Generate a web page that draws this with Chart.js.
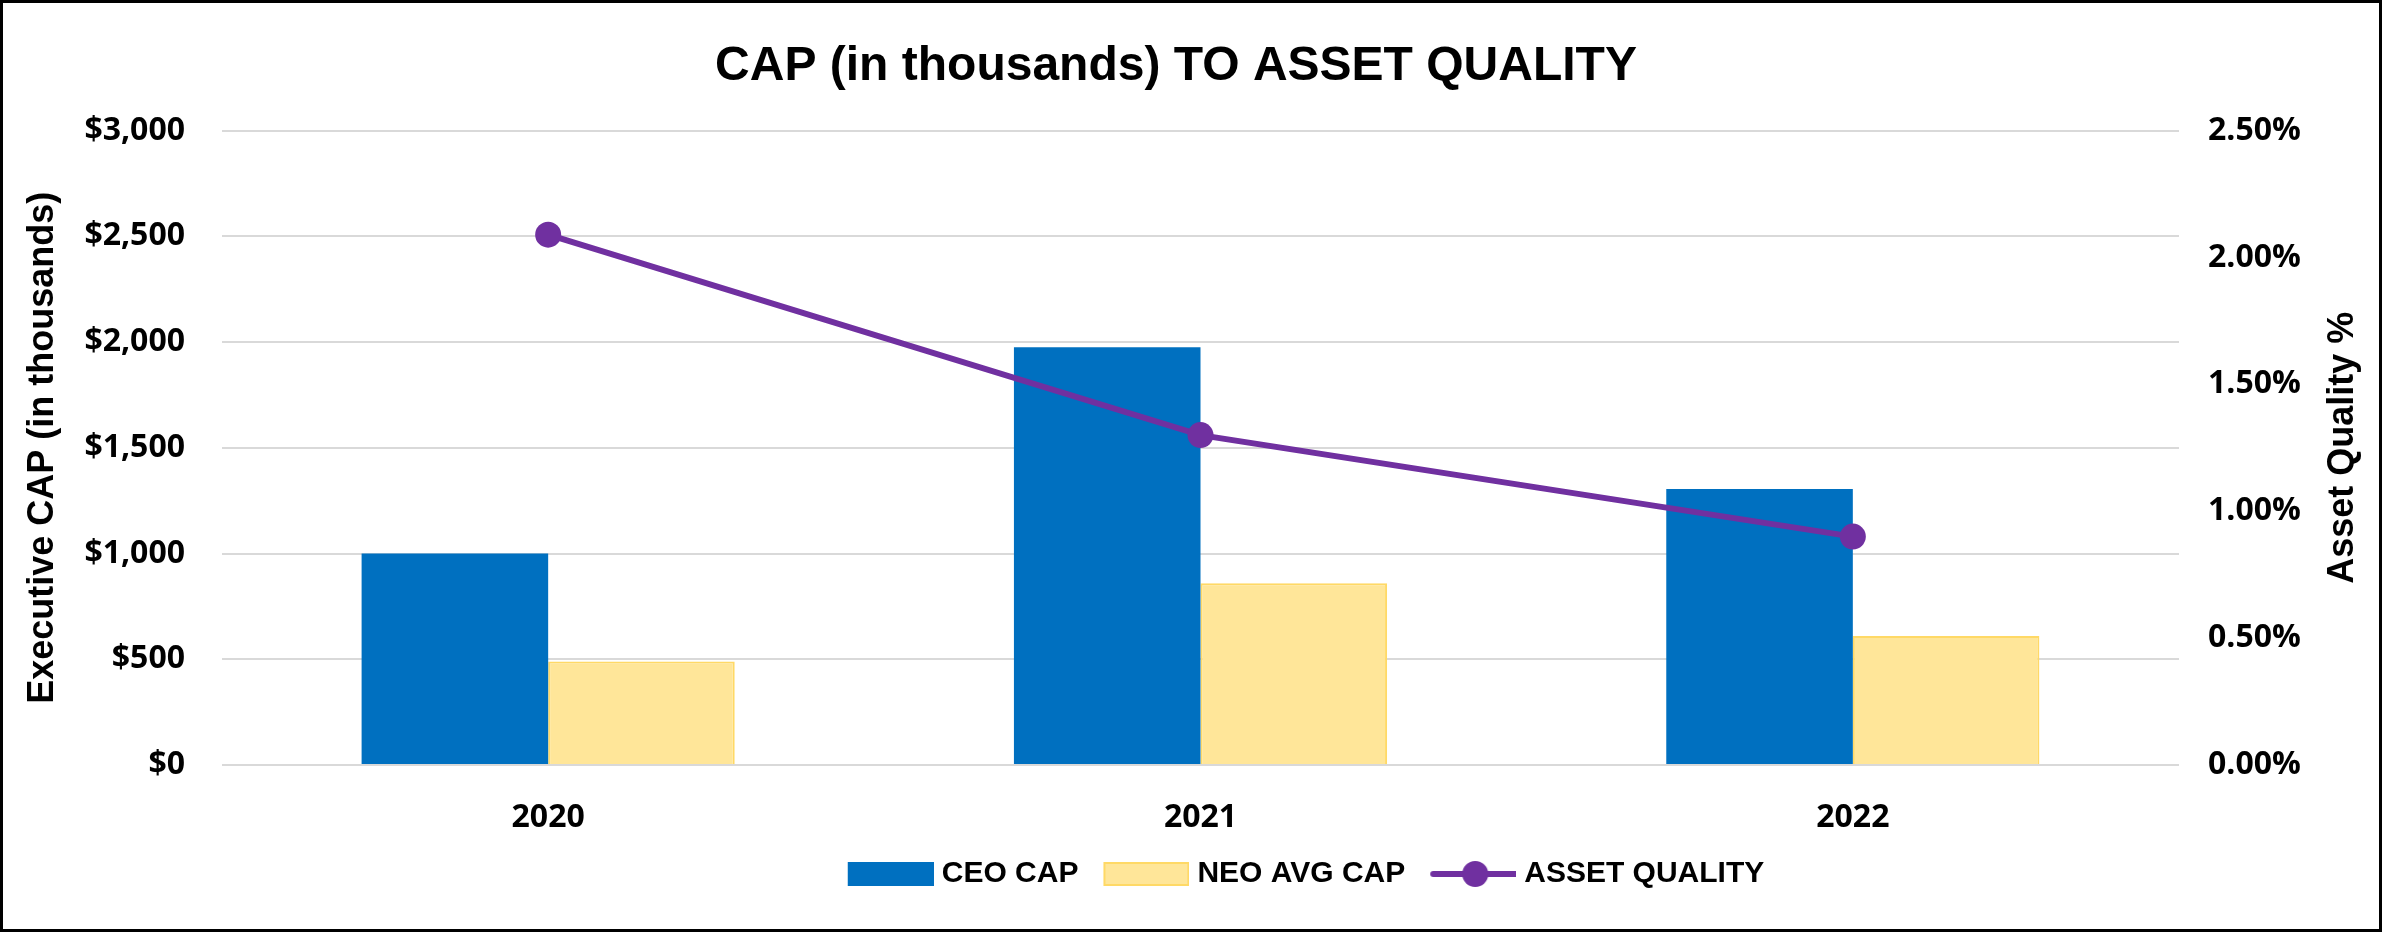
<!DOCTYPE html>
<html>
<head>
<meta charset="utf-8">
<title>CAP to Asset Quality</title>
<script src="https://cdn.jsdelivr.net/npm/chart.js@4.4.0/dist/chart.umd.min.js"></script>
<style>
html, body { margin: 0; padding: 0; background: #fff; }
#wrap { width: 2382px; height: 932px; box-sizing: border-box; border: 3px solid #000; }
canvas { display: block; }
</style>
</head>
<body>
<div id="wrap"><canvas id="myChart" width="2376" height="926"></canvas></div>
<script>
var years = ['2020', '2021', '2022'];
var ceoCap = [1000, 1975, 1305];
var neoAvgCap = [490, 860, 610];
var assetQuality = [2.09, 1.30, 0.90];

var blue = '#0070C0';
var yellow = '#FFE699';
var yellowEdge = '#FFD966';
var purple = '#7030A0';
var sans = '"Liberation Sans", Arial, sans-serif';
var tickFont = { family: '"Open Sans", "DejaVu Sans", sans-serif', size: 32, weight: 'bold', lineHeight: 1 };

// little pictures for the legend (7px empty on the left so the gap to the text is tight)
function icon(draw) {
    var c = document.createElement('canvas');
    c.width = 93;
    c.height = 28;
    var g = c.getContext('2d');
    g.translate(7, 0);
    draw(g);
    return c;
}
var ceoIcon = icon(function (g) {
    g.fillStyle = blue;
    g.fillRect(0, 2, 86, 24);
});
var neoIcon = icon(function (g) {
    g.fillStyle = yellow;
    g.fillRect(1, 3, 84, 22);
    g.strokeStyle = yellowEdge;
    g.lineWidth = 2;
    g.strokeRect(1, 3, 84, 22);
});
var aqIcon = icon(function (g) {
    g.strokeStyle = purple;
    g.lineWidth = 6;
    g.lineCap = 'round';
    g.beginPath();
    g.moveTo(3, 14);
    g.lineTo(86, 14);
    g.stroke();
    g.fillStyle = purple;
    g.beginPath();
    g.arc(45, 14, 13, 0, Math.PI * 2);
    g.fill();
});
var icons = [ceoIcon, neoIcon, aqIcon];

// right axis title reads bottom to top, like the left one
var rightTitle = {
    id: 'rightTitle',
    afterDraw: function (chart) {
        var ctx = chart.ctx;
        var a = chart.chartArea;
        ctx.save();
        ctx.translate(2340, (a.top + a.bottom) / 2);
        ctx.rotate(-Math.PI / 2);
        ctx.font = 'bold 36px ' + sans;
        ctx.fillStyle = '#000';
        ctx.textAlign = 'center';
        ctx.textBaseline = 'middle';
        ctx.fillText('Asset Quality %', 0, 0);
        ctx.restore();
    }
};

// the original legend sits right of centre, the title a bit left
var nudge = {
    id: 'nudge',
    afterLayout: function (chart) {
        chart.legend.left += 115;
        chart.legend.right += 115;
        chart.titleBlock.left -= 15;
        chart.titleBlock.right -= 15;
    }
};

new Chart(document.getElementById('myChart'), {
    type: 'bar',
    data: {
        labels: years,
        datasets: [
            {
                label: 'CEO CAP',
                data: ceoCap,
                backgroundColor: blue,
                yAxisID: 'y',
                order: 2
            },
            {
                label: 'NEO AVG CAP',
                data: neoAvgCap,
                backgroundColor: yellow,
                borderColor: yellowEdge,
                borderWidth: 2,
                yAxisID: 'y',
                order: 2
            },
            {
                type: 'line',
                label: 'ASSET QUALITY',
                data: assetQuality,
                borderColor: purple,
                backgroundColor: purple,
                borderWidth: 6,
                pointRadius: 13,
                pointHoverRadius: 13,
                pointBackgroundColor: purple,
                pointBorderWidth: 0,
                yAxisID: 'y1',
                order: 1
            }
        ]
    },
    options: {
        responsive: false,
        animation: false,
        datasets: {
            bar: { barPercentage: 1, categoryPercentage: 0.572 }
        },
        layout: { padding: { bottom: 30 } },
        plugins: {
            title: {
                display: true,
                text: 'CAP (in thousands) TO ASSET QUALITY',
                color: '#000',
                font: { family: sans, size: 48, weight: 'bold' },
                padding: { top: 35, bottom: 35 }
            },
            legend: {
                position: 'bottom',
                labels: {
                    usePointStyle: true,
                    pointStyleWidth: 79,
                    boxHeight: 30,
                    padding: 25,
                    color: '#000',
                    font: { family: sans, size: 30, weight: 'bold' },
                    generateLabels: function (chart) {
                        return chart.data.datasets.map(function (ds, i) {
                            return {
                                text: ds.label,
                                pointStyle: icons[i],
                                datasetIndex: i,
                                fontColor: '#000',
                                lineWidth: 0,
                                hidden: false
                            };
                        });
                    }
                }
            },
            tooltip: { enabled: false }
        },
        scales: {
            x: {
                grid: { display: false },
                border: { display: false },
                ticks: { color: '#000', font: tickFont, padding: 29 },
                afterFit: function (scale) { scale.height = 69; }
            },
            y: {
                position: 'left',
                min: 0,
                max: 3000,
                ticks: {
                    stepSize: 500,
                    color: '#000',
                    font: tickFont,
                    padding: 37,
                    callback: function (v) { return '$' + v.toLocaleString('en-US'); }
                },
                grid: { color: '#d9d9d9', lineWidth: 2, drawTicks: false },
                border: { display: false },
                title: {
                    display: true,
                    text: 'Executive CAP (in thousands)',
                    color: '#000',
                    font: { family: sans, size: 36, weight: 'bold' },
                    padding: { top: 18, bottom: 0 }
                },
                afterFit: function (scale) { scale.width = 219; }
            },
            y1: {
                position: 'right',
                min: 0,
                max: 2.5,
                ticks: {
                    stepSize: 0.5,
                    color: '#000',
                    font: tickFont,
                    padding: 29,
                    callback: function (v) { return v.toFixed(2) + '%'; }
                },
                grid: { display: false, drawTicks: false },
                border: { display: false },
                afterFit: function (scale) { scale.width = 200; }
            }
        }
    },
    plugins: [rightTitle, nudge]
});
</script>
</body>
</html>
